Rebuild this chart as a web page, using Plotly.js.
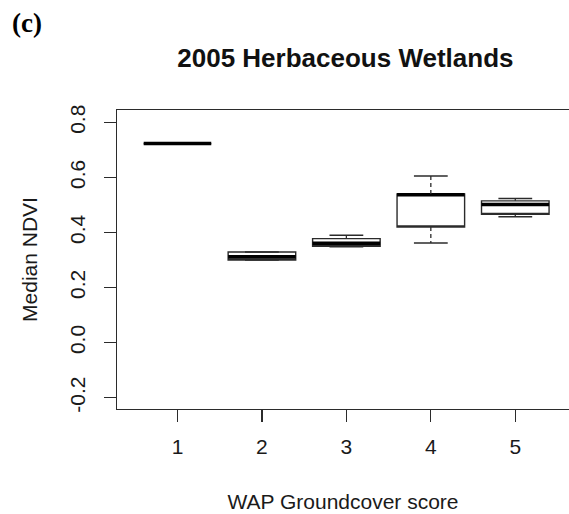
<!DOCTYPE html>
<html>
<head>
<meta charset="utf-8">
<script src="https://cdn.plot.ly/plotly-3.0.1.min.js"></script>
<style>
  html, body { margin: 0; padding: 0; background: #ffffff; overflow: hidden; }
  #chart { width: 569px; height: 514px; }
</style>
</head>
<body>
<div id="chart"></div>
<script>
// ---- Data ----
var groups = [1, 2, 3, 4, 5];
var groupLabels = ["1", "2", "3", "4", "5"];
var lowerWhisker = [0.723, 0.300, 0.348, 0.362, 0.457];
var q1Values     = [0.723, 0.300, 0.350, 0.420, 0.466];
var medianValues = [0.723, 0.312, 0.361, 0.537, 0.502];
var q3Values     = [0.723, 0.329, 0.378, 0.540, 0.515];
var upperWhisker = [0.723, 0.329, 0.390, 0.605, 0.524];
var yTickVals = [-0.2, 0.0, 0.2, 0.4, 0.6, 0.8];
var yTickText = ["-0.2", "0.0", "0.2", "0.4", "0.6", "0.8"];

// ---- Styling constants ----
var boxWidth = 0.8;
var capHalf = boxWidth / 4;
var lineColor = "#2b2b2b";

// whisker stems (dashed) and caps built from the data arrays
var stemX = [], stemY = [], capX = [], capY = [];
groups.forEach(function (g, i) {
  if (upperWhisker[i] > q3Values[i]) {
    stemX.push(g, g, null); stemY.push(q3Values[i], upperWhisker[i], null);
  }
  if (lowerWhisker[i] < q1Values[i]) {
    stemX.push(g, g, null); stemY.push(q1Values[i], lowerWhisker[i], null);
  }
  if (upperWhisker[i] !== lowerWhisker[i]) {
    capX.push(g - capHalf, g + capHalf, null); capY.push(upperWhisker[i], upperWhisker[i], null);
    capX.push(g - capHalf, g + capHalf, null); capY.push(lowerWhisker[i], lowerWhisker[i], null);
  }
});

var traces = [
  {
    type: "scatter", mode: "lines", x: stemX, y: stemY,
    line: { color: lineColor, width: 1.3, dash: "4px,3px" },
    hoverinfo: "skip", showlegend: false
  },
  {
    type: "scatter", mode: "lines", x: capX, y: capY,
    line: { color: lineColor, width: 1.5 },
    hoverinfo: "skip", showlegend: false
  },
  {
    type: "box", x: groups,
    q1: q1Values, median: q1Values, q3: q3Values,
    lowerfence: q1Values, upperfence: q3Values,
    width: boxWidth, whiskerwidth: 0,
    fillcolor: "#ffffff",
    line: { color: lineColor, width: 1.4 },
    boxpoints: false, showlegend: false, hoverinfo: "skip"
  },
  {
    type: "box", x: groups,
    q1: medianValues, median: medianValues, q3: medianValues,
    lowerfence: medianValues, upperfence: medianValues,
    width: boxWidth, whiskerwidth: 0,
    fillcolor: "rgba(0,0,0,0)",
    line: { color: "#000000", width: 3.5 },
    boxpoints: false, showlegend: false, hoverinfo: "skip"
  }
];

var layout = {
  width: 569, height: 514,
  margin: { l: 117, r: 0, t: 110, b: 105, pad: 0 },
  paper_bgcolor: "#ffffff", plot_bgcolor: "#ffffff",
  boxmode: "overlay",
  showlegend: false,
  font: { family: "Liberation Sans, Arial, sans-serif", size: 21, color: "#1a1a1a" },
  title: {
    text: "<b>2005 Herbaceous Wetlands</b>",
    font: { family: "Liberation Sans, Arial, sans-serif", size: 26, color: "#111111" },
    xref: "container", x: 0.607, xanchor: "center",
    yref: "container", y: 1 - 58 / 514, yanchor: "middle"
  },
  xaxis: {
    range: [0.284, 5.636],
    tickmode: "array", tickvals: groups, ticktext: groupLabels,
    ticks: "outside", ticklen: 12, tickwidth: 1.2, tickcolor: lineColor,
    ticklabelstandoff: 6,
    showline: true, linecolor: lineColor, linewidth: 1.3, mirror: true,
    showgrid: false, zeroline: false,
    tickfont: { size: 21, color: "#1a1a1a" },
    title: { text: "WAP Groundcover score", standoff: 37,
             font: { size: 21, color: "#1a1a1a" } },
    automargin: false
  },
  yaxis: {
    range: [-0.241, 0.845],
    tickmode: "array", tickvals: yTickVals, ticktext: yTickText,
    tickangle: -90,
    ticks: "outside", ticklen: 12, tickwidth: 1.2, tickcolor: lineColor,
    ticklabelstandoff: 10,
    showline: true, linecolor: lineColor, linewidth: 1.3, mirror: true,
    showgrid: false, zeroline: false,
    tickfont: { size: 21, color: "#1a1a1a" },
    title: { text: "Median NDVI", standoff: 23,
             font: { size: 21, color: "#1a1a1a" } },
    automargin: false
  },
  annotations: [
    {
      text: "<b>(c)</b>", showarrow: false,
      xref: "paper", yref: "paper",
      x: (10 - 117) / 452, xanchor: "left",
      y: (409 - 23) / 299, yanchor: "middle",
      font: { family: "Liberation Serif, Times New Roman, serif", size: 27, color: "#000000" }
    }
  ]
};

Plotly.newPlot("chart", traces, layout, { displayModeBar: false, staticPlot: true });
</script>
</body>
</html>
